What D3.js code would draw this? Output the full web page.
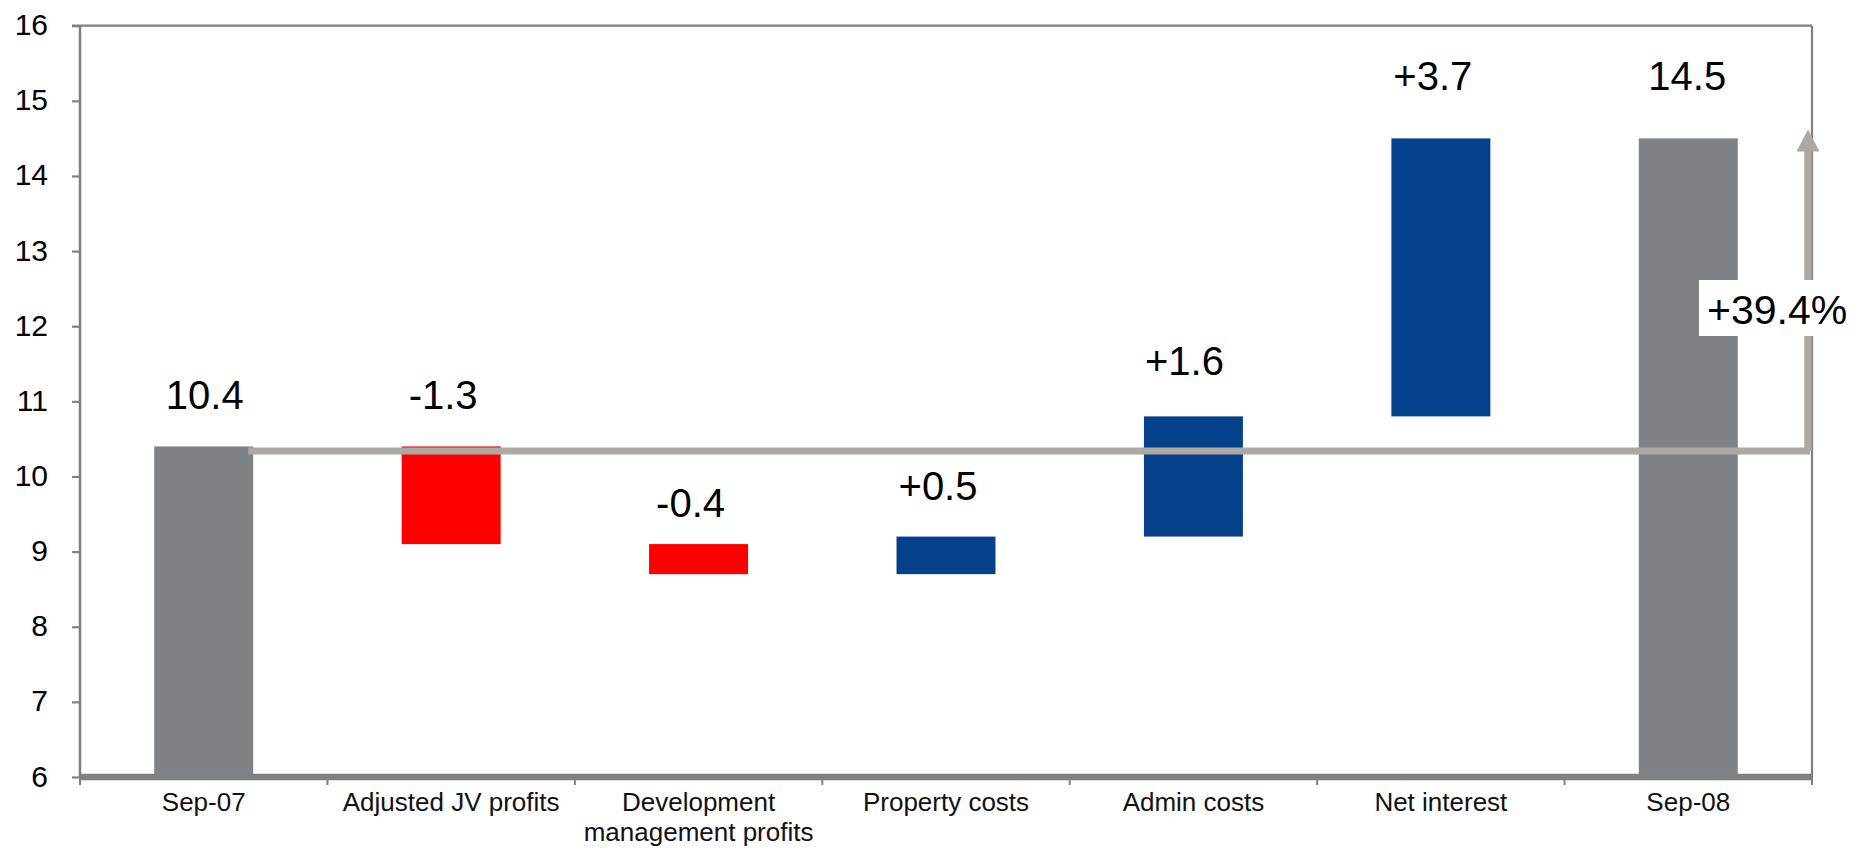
<!DOCTYPE html>
<html>
<head>
<meta charset="utf-8">
<script src="https://cdn.jsdelivr.net/npm/d3@7"></script>
<style>
  html, body { margin: 0; padding: 0; background: #fff; }
  svg { display: block; font-family: "Liberation Sans", Arial, Helvetica, sans-serif; }
</style>
</head>
<body>
<svg id="chart" width="1873" height="848"></svg>
<script>
// Earnings bridge, Sep-07 to Sep-08
const categories = ["Sep-07", "Adjusted JV profits", "Development\nmanagement profits",
                    "Property costs", "Admin costs", "Net interest", "Sep-08"];
const kinds = ["total", "delta", "delta", "delta", "delta", "delta", "total"];
const values = [10.4, -1.3, -0.4, 0.5, 1.6, 3.7, 14.5];
const valueLabels = ["10.4", "-1.3", "-0.4", "+0.5", "+1.6", "+3.7", "14.5"];
const yTicks = [6, 7, 8, 9, 10, 11, 12, 13, 14, 15, 16];
const changeLabel = "+39.4%";

// Label placement (pixels above each bar top, horizontal nudge)
const labelLift = [37, 37, 27, 37, 41, 48, 48];
const labelNudge = [1, -8, -8, -8, -9, -8, -1];

const colors = { total: "#7e8286", up: "#04418a", down: "#ff0000",
                 bridge: "#aca8a4", axis: "#808080" };

const svg = d3.select("#chart");
const plotLeft = 80, plotRight = 1812, plotTop = 25.7, plotBottom = 777;

const x = d3.scaleBand().domain(categories).range([plotLeft, plotRight])
  .paddingInner(0.6).paddingOuter(0.3);
const y = d3.scaleLinear().domain([6, 16]).range([plotBottom, plotTop]);

// Waterfall segments
let running = 0;
const bars = categories.map((c, i) => {
  let lo, hi, color;
  if (kinds[i] === "total") {
    lo = y.domain()[0]; hi = values[i]; running = values[i]; color = colors.total;
  } else {
    const start = running, end = running + values[i];
    lo = Math.min(start, end); hi = Math.max(start, end);
    running = end;
    color = values[i] < 0 ? colors.down : colors.up;
  }
  return { cat: c, lo, hi, color, label: valueLabels[i], i };
});

// Frame: top and right edges
svg.append("line").attr("x1", plotLeft - 8).attr("x2", plotRight).attr("y1", plotTop).attr("y2", plotTop)
  .attr("stroke", colors.axis).attr("stroke-width", 2.2);
svg.append("line").attr("x1", plotRight).attr("x2", plotRight).attr("y1", plotTop).attr("y2", plotBottom)
  .attr("stroke", colors.axis).attr("stroke-width", 2.2);

// Bars
svg.append("g").selectAll("rect").data(bars).join("rect")
  .attr("x", d => x(d.cat))
  .attr("width", x.bandwidth())
  .attr("y", d => y(d.hi))
  .attr("height", d => y(d.lo) - y(d.hi))
  .attr("fill", d => d.color);

// Value labels
svg.append("g").selectAll("text").data(bars).join("text")
  .attr("x", d => x(d.cat) + x.bandwidth() / 2 + labelNudge[d.i])
  .attr("y", d => y(d.hi) - labelLift[d.i])
  .attr("text-anchor", "middle")
  .attr("font-size", 40)
  .attr("fill", "#000")
  .text(d => d.label);

// Y axis
const yAxis = svg.append("g").attr("transform", `translate(${plotLeft},0)`)
  .call(d3.axisLeft(y).tickValues(yTicks).tickSize(8).tickSizeOuter(0).tickPadding(24)
    .tickFormat(d3.format("d")));
yAxis.select(".domain").remove();
yAxis.selectAll(".tick line").attr("stroke", colors.axis).attr("stroke-width", 2.2);
yAxis.selectAll(".tick text").attr("font-size", 30).attr("fill", "#000")
  .attr("font-family", "\"Liberation Sans\", Arial, sans-serif").attr("dy", "0.3em");
svg.append("line").attr("x1", plotLeft).attr("x2", plotLeft).attr("y1", plotTop).attr("y2", plotBottom)
  .attr("stroke", colors.axis).attr("stroke-width", 2.5);

// X axis baseline (thick) with ticks at category boundaries
svg.append("line").attr("x1", plotLeft).attr("x2", plotRight).attr("y1", plotBottom).attr("y2", plotBottom)
  .attr("stroke", colors.axis).attr("stroke-width", 6.5);
const gap = (x.step() - x.bandwidth()) / 2;
const boundaries = categories.map(c => x(c) - gap)
  .concat([x(categories[categories.length - 1]) + x.bandwidth() + gap]);
svg.append("g").selectAll("line").data(boundaries).join("line")
  .attr("x1", d => d).attr("x2", d => d)
  .attr("y1", plotBottom).attr("y2", plotBottom + 8)
  .attr("stroke", colors.axis).attr("stroke-width", 2);

const xAxis = svg.append("g").attr("transform", `translate(0,${plotBottom})`)
  .call(d3.axisBottom(x).tickSize(0).tickPadding(15.5));
xAxis.select(".domain").remove();
xAxis.selectAll(".tick text")
  .attr("font-size", 26).attr("fill", "#111")
  .attr("font-family", "\"Liberation Sans\", Arial, sans-serif")
  .attr("dy", null)
  .each(function (d) {
    const t = d3.select(this);
    const lines = d.split("\n");
    t.text(null);
    lines.forEach((ln, k) => {
      t.append("tspan").attr("x", 0).attr("dy", k === 0 ? "0.71em" : "30px").text(ln);
    });
  });

// Bridge line from the opening level across to the arrow
const startVal = values[0], endVal = values[values.length - 1];
const bridgeY = y(startVal) + 4.5;
const bridgeX0 = x(categories[0]) + x.bandwidth() - 5;
const arrowX = plotRight - 4;
svg.append("line").attr("x1", bridgeX0).attr("x2", arrowX + 2).attr("y1", bridgeY).attr("y2", bridgeY)
  .attr("stroke", colors.bridge).attr("stroke-width", 7);

// Upward arrow to the closing level
const tipY = y(endVal) - 9;
const headH = 22, headW = 23, shaftW = 7.5;
svg.append("rect").attr("x", arrowX - shaftW / 2).attr("width", shaftW)
  .attr("y", tipY + headH - 1).attr("height", bridgeY - (tipY + headH - 1))
  .attr("fill", colors.bridge);
svg.append("path")
  .attr("d", `M${arrowX},${tipY} L${arrowX + headW / 2},${tipY + headH} L${arrowX - headW / 2},${tipY + headH} Z`)
  .attr("fill", colors.bridge);

// Percentage change label on a white box
const boxY = 280, boxH = 56;
svg.append("rect").attr("x", 1699).attr("y", boxY).attr("width", 159).attr("height", boxH)
  .attr("fill", "#fff");
svg.append("text").attr("x", 1707).attr("y", boxY + 44)
  .attr("font-size", 41).attr("fill", "#000").text(changeLabel);
</script>
</body>
</html>
